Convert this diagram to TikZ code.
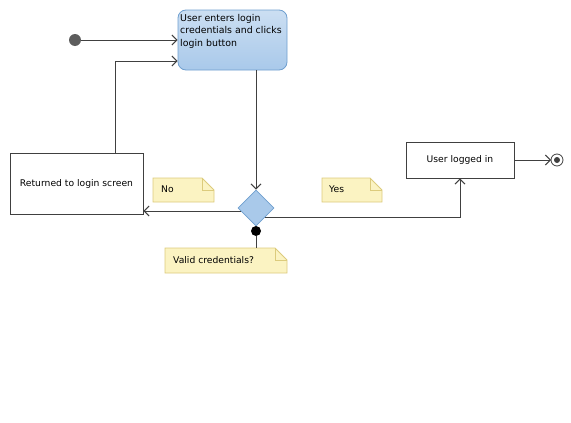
\documentclass[tikz,border=0pt]{standalone}
\usepackage{fontspec}
\setmainfont{DejaVu Sans}
\usetikzlibrary{arrows.meta,shapes.geometric}
\definecolor{linegray}{HTML}{404040}
\definecolor{actblue}{HTML}{A9C9EA}
\definecolor{actborder}{HTML}{6F9FCF}
\definecolor{notefill}{HTML}{FBF3C2}
\definecolor{noteline}{HTML}{DCCB7C}
\tikzset{
    flow/.style={draw=linegray, line width=1pt, -{Straight Barb[length=5pt,width=10pt,line width=1pt]}},
    link/.style={draw=linegray, line width=1pt},
    statebox/.style={draw=linegray, line width=0.8pt, fill=white, font=\fontsize{9.2}{11}\selectfont, inner sep=0pt},
    notetext/.style={font=\fontsize{9.2}{11}\selectfont, anchor=west, inner sep=0pt}
}
\newcommand{\notebox}[4]{% x1, y1, x2, y2
    \filldraw[fill=notefill, draw=noteline, line width=0.8pt]
        (#1,#2) -- (#3-12,#2) -- (#3,#2+12) -- (#3,#4) -- (#1,#4) -- cycle;
    \draw[draw=noteline, line width=0.8pt] (#3-12,#2) -- (#3-12,#2+12) -- (#3,#2+12);
}
\begin{document}
\begin{tikzpicture}[x=1pt, y=-1pt]
    \useasboundingbox (0,0) rectangle (571,423);
    % start and end
    \fill [color=linegray!85] (75,40) circle (6);
    \coordinate (start) at (81,40);
    \draw [linegray, line width=0.8pt, fill=white] (557,160) circle (6);
    \fill [color=linegray] (557,160) circle (3);
    \coordinate (final) at (551,160);
    % action and states
    \node[draw=actborder, line width=0.8pt, rounded corners=8pt, top color=actblue!60, bottom color=actblue,
          minimum width=109, minimum height=60, inner sep=0pt] (enter) at (232.5,40) {};
    \node[font=\fontsize{9.4}{12.5}\selectfont, align=left, anchor=north west, inner sep=0pt] (entertext) at (180,14)
        {User enters login\\credentials and clicks\\login button};
    \node[statebox, minimum width=133, minimum height=61] (returned) at (76.5,184) {Returned to login screen};
    \node[statebox, minimum width=108, minimum height=36] (loggedin) at (460,160) {User logged in};
    % decision
    \node[diamond, draw=actborder, line width=0.8pt, fill=actblue, minimum width=36, minimum height=36, inner sep=0pt] (valid) at (256,208) {};
    \fill [color=black] (256,231) circle (5);
    \coordinate (dot) at (256,236);
    \coordinate (noout) at (241,211);
    \coordinate (yesout) at (265,217);
    % notes
    \notebox{153}{178}{214}{202}
    \node[notetext] (no) at (161,189) {No};
    \notebox{322}{178}{382}{202}
    \node[notetext] (yes) at (329,189) {Yes};
    \notebox{165}{248}{287}{273}
    \node[notetext] (validnote) at (173,260) {Valid credentials?};
    \coordinate (notetop) at (256,248);
    % connectors
    \draw[flow] (start) -- (enter.west |- start);
    \draw[flow] (returned.north -| 115,0) |- (enter.west |- 0,61);
    \draw[flow] (valid.north |- enter.south) -- (valid.north);
    \draw[flow] (noout) -- (returned.east |- noout);
    \draw[flow] (yesout) -| (loggedin.south);
    \draw[flow] (loggedin.east) -- (final);
    \draw[link] (dot) -- (notetop);
\end{tikzpicture}
\end{document}
